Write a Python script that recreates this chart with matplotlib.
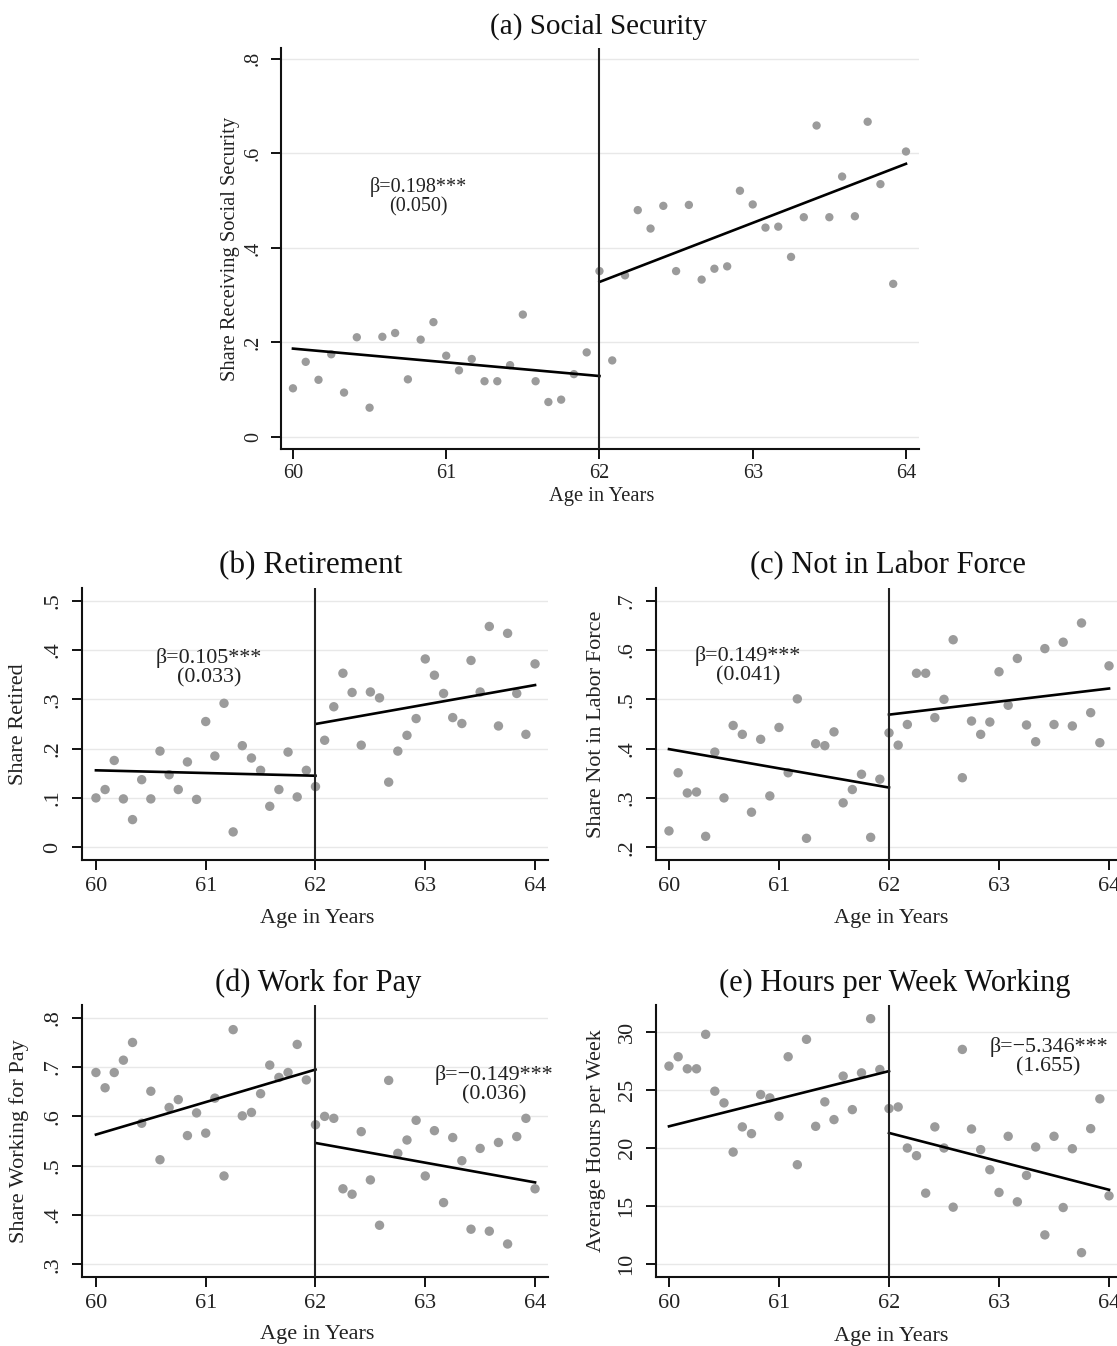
import numpy as np
import matplotlib
matplotlib.use("Agg")
import matplotlib.pyplot as plt

# ---------------------------------------------------------------- data
months = np.arange(49)
age = 60 + months / 12          # monthly age bins, 60 to 64

social_security = [
    0.103, 0.159, 0.121, 0.175, 0.094, 0.211, 0.062, 0.212, 0.220, 0.122,
    0.206, 0.243, 0.172, 0.141, 0.165, 0.118, 0.118, 0.152, 0.259, 0.118,
    0.074, 0.079, 0.133, 0.179, 0.351, 0.162, 0.342, 0.480, 0.441, 0.489,
    0.351, 0.491, 0.333, 0.356, 0.361, 0.521, 0.492, 0.443, 0.445, 0.381,
    0.465, 0.659, 0.465, 0.551, 0.467, 0.667, 0.535, 0.324, 0.604]

retired = [
    0.100, 0.117, 0.176, 0.098, 0.056, 0.137, 0.098, 0.195, 0.147, 0.117,
    0.173, 0.097, 0.255, 0.185, 0.292, 0.031, 0.206, 0.181, 0.156, 0.083,
    0.117, 0.193, 0.102, 0.156, 0.123, 0.217, 0.285, 0.353, 0.314, 0.207,
    0.315, 0.303, 0.132, 0.195, 0.227, 0.261, 0.382, 0.349, 0.312, 0.263,
    0.251, 0.379, 0.315, 0.448, 0.246, 0.434, 0.312, 0.229, 0.372]

not_in_lf = [
    0.233, 0.351, 0.310, 0.312, 0.222, 0.393, 0.300, 0.447, 0.429, 0.271,
    0.419, 0.304, 0.443, 0.351, 0.501, 0.218, 0.410, 0.406, 0.434, 0.290,
    0.317, 0.348, 0.220, 0.338, 0.432, 0.407, 0.449, 0.553, 0.553, 0.463,
    0.500, 0.621, 0.341, 0.456, 0.429, 0.454, 0.556, 0.488, 0.583, 0.448,
    0.414, 0.603, 0.449, 0.616, 0.446, 0.655, 0.473, 0.412, 0.568]

work_for_pay = [
    0.689, 0.658, 0.689, 0.714, 0.750, 0.586, 0.651, 0.512, 0.618, 0.634,
    0.561, 0.607, 0.566, 0.637, 0.479, 0.776, 0.601, 0.608, 0.646, 0.704,
    0.679, 0.689, 0.746, 0.674, 0.583, 0.600, 0.596, 0.453, 0.442, 0.569,
    0.471, 0.379, 0.673, 0.525, 0.552, 0.592, 0.479, 0.571, 0.425, 0.557,
    0.510, 0.371, 0.535, 0.367, 0.547, 0.341, 0.559, 0.596, 0.453]

hours_per_week = [
    27.06, 27.87, 26.83, 26.83, 29.80, 24.90, 23.89, 19.65, 21.82, 21.24,
    24.61, 24.32, 22.74, 27.87, 18.56, 29.37, 21.87, 23.98, 22.45, 26.20,
    23.31, 26.48, 31.15, 26.77, 23.40, 23.54, 20.00, 19.34, 16.11, 21.82,
    20.00, 14.90, 28.50, 21.64, 19.86, 18.13, 16.17, 21.01, 15.36, 17.64,
    20.09, 12.51, 21.01, 14.87, 19.94, 10.98, 21.67, 24.24, 15.88]

# fitted values at the ends of each side of the age-62 cutoff
fit_ss = ([0.187, 0.129], [0.328, 0.578])
fit_retired = ([0.156, 0.145], [0.250, 0.329])
fit_nilf = ([0.399, 0.321], [0.469, 0.522])
fit_work = ([0.563, 0.695], [0.546, 0.466])
fit_hours = ([21.87, 26.63], [21.30, 16.40])

# discontinuity estimates
beta_ss = ("0.198", "0.050")
beta_retired = ("0.105", "0.033")
beta_nilf = ("0.149", "0.041")
beta_work = ("\u22120.149", "0.036")
beta_hours = ("\u22125.346", "1.655")

xticks = [60, 61, 62, 63, 64]
yticks_ss = [0, 0.2, 0.4, 0.6, 0.8]
yticklabels_ss = ["0", ".2", ".4", ".6", ".8"]
yticks_retired = [0, 0.1, 0.2, 0.3, 0.4, 0.5]
yticklabels_retired = ["0", ".1", ".2", ".3", ".4", ".5"]
yticks_nilf = [0.2, 0.3, 0.4, 0.5, 0.6, 0.7]
yticklabels_nilf = [".2", ".3", ".4", ".5", ".6", ".7"]
yticks_work = [0.3, 0.4, 0.5, 0.6, 0.7, 0.8]
yticklabels_work = [".3", ".4", ".5", ".6", ".7", ".8"]
yticks_hours = [10, 15, 20, 25, 30]
yticklabels_hours = ["10", "15", "20", "25", "30"]

# ---------------------------------------------------------------- figure
W, H, DPI = 1117, 1346, 100
plt.rcParams["font.family"] = ["Liberation Serif", "DejaVu Serif"]
plt.rcParams["mathtext.fontset"] = "stix"

fig = plt.figure(figsize=(W / DPI, H / DPI), dpi=DPI, facecolor="white")

DOT = "#9b9b9b"
GRID = "#e8e8e8"


def box(left, top, right, bottom):
    return [left / W, 1 - bottom / H, (right - left) / W, (bottom - top) / H]


def ftext(x, y, s, **kw):
    fig.text(x / W, 1 - y / H, s, ha="center", va="center", **kw)


def panel(rect, xlim, ylim, values, fit, yticks, yticklabels, beta, beta_xy,
          title, title_xy, ylabel, ylabel_x, xlabel_y, tick_fs, label_fs,
          title_fs, note_fs, dot_size, xpad, ypad):
    ax = fig.add_axes(box(*rect))
    ax.set_xlim(*xlim)
    ax.set_ylim(*ylim)
    for s in ("top", "right"):
        ax.spines[s].set_visible(False)
    for s in ("left", "bottom"):
        ax.spines[s].set_linewidth(1.5)
        ax.spines[s].set_color("#111111")
    for t in yticks:
        ax.axhline(t, color=GRID, lw=1.0, zorder=0)
    ax.set_xticks(xticks)
    ax.set_xticklabels([str(v) for v in xticks])
    ax.set_yticks(yticks)
    ax.set_yticklabels(yticklabels)
    ax.tick_params(axis="both", direction="out", length=7, width=1.4,
                   color="#111111", labelsize=tick_fs, labelcolor="#222222")
    ax.tick_params(axis="x", pad=xpad)
    ax.tick_params(axis="y", pad=ypad)
    for lab in ax.get_yticklabels():
        lab.set_rotation(90)
        lab.set_va("center")

    ax.scatter(age, values, s=dot_size, color=DOT, edgecolors="none",
               zorder=2)
    left_fit, right_fit = fit
    ax.plot([60, 62], left_fit, color="black", lw=1.9, zorder=3)
    ax.plot([62, 64], right_fit, color="black", lw=1.9, zorder=3)
    ax.axvline(62, color="#222222", lw=1.5, zorder=4)

    ax.text(beta_xy[0], beta_xy[1],
            "\u03b2=" + beta[0] + "***\n(" + beta[1] + ")",
            ha="center", va="center", fontsize=note_fs, color="#222222",
            linespacing=1.0, zorder=5)

    ftext(*title_xy, title, fontsize=title_fs, color="#111111")
    ftext(ylabel_x, (rect[1] + rect[3]) / 2, ylabel, rotation=90,
          fontsize=label_fs, color="#222222")
    ftext((rect[0] + rect[2]) / 2 + 2, xlabel_y, "Age in Years",
          fontsize=label_fs, color="#222222")
    return ax


panel((281, 48, 919, 449), (59.922, 64.085), (-0.0254, 0.823),
      social_security, fit_ss, yticks_ss, yticklabels_ss, beta_ss,
      (60.82, 0.508), "(a) Social Security", (598, 27),
      "Share Receiving Social Security", 230, 496,
      tick_fs=14.5, label_fs=14.8, title_fs=21, note_fs=14.5, dot_size=36,
      xpad=3.5, ypad=6)

panel((82, 588, 548, 860), (59.873, 64.118), (-0.026, 0.526),
      retired, fit_retired, yticks_retired, yticklabels_retired,
      beta_retired, (61.03, 0.364), "(b) Retirement", (311, 566),
      "Share Retired", 19, 918,
      tick_fs=16, label_fs=16, title_fs=22.5, note_fs=15.8, dot_size=46,
      xpad=5, ypad=7)

panel((656, 588, 1122, 860), (59.882, 64.118), (0.174, 0.726),
      not_in_lf, fit_nilf, yticks_nilf, yticklabels_nilf,
      beta_nilf, (60.72, 0.568), "(c) Not in Labor Force", (888, 566),
      "Share Not in Labor Force", 596, 918,
      tick_fs=16, label_fs=16, title_fs=22, note_fs=15.8, dot_size=46,
      xpad=5, ypad=7)

panel((82, 1005, 548, 1277), (59.873, 64.118), (0.274, 0.826),
      work_for_pay, fit_work, yticks_work, yticklabels_work,
      beta_work, (63.63, 0.664), "(d) Work for Pay", (318, 983),
      "Share Working for Pay", 19, 1335,
      tick_fs=16, label_fs=16, title_fs=22, note_fs=15.8, dot_size=46,
      xpad=5.5, ypad=7)

panel((656, 1005, 1122, 1277), (59.882, 64.118), (8.88, 32.33),
      hours_per_week, fit_hours, yticks_hours, yticklabels_hours,
      beta_hours, (63.45, 27.9), "(e) Hours per Week Working", (895, 983),
      "Average Hours per Week", 596, 1336,
      tick_fs=16, label_fs=16, title_fs=22, note_fs=15.8, dot_size=46,
      xpad=5.5, ypad=7)

fig.savefig("out.png", dpi=DPI, facecolor="white")
